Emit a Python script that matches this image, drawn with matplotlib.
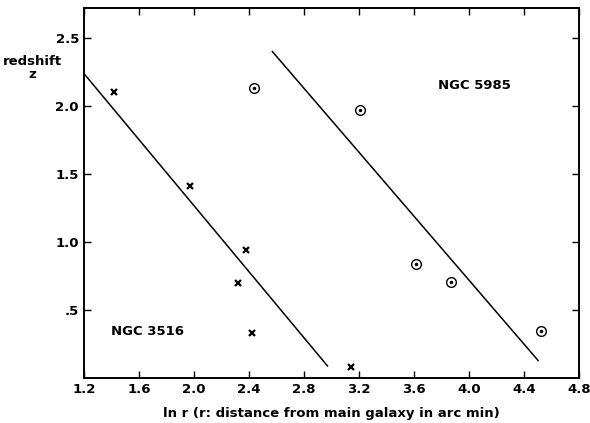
import numpy as np
import matplotlib
matplotlib.use("Agg")
import matplotlib.pyplot as plt

# NGC 3516 companions (crosses)
x_3516 = [1.42, 1.97, 2.38, 2.32, 2.42, 3.14]
z_3516 = [2.10, 1.41, 0.94, 0.70, 0.33, 0.08]

# NGC 5985 companions (circled dots)
x_5985 = [2.44, 3.21, 3.61, 3.87, 4.52]
z_5985 = [2.13, 1.97, 0.84, 0.71, 0.35]

# fitted lines (end points)
line_3516_x = [1.2, 2.97]
line_3516_z = [2.24, 0.09]
line_5985_x = [2.57, 4.50]
line_5985_z = [2.40, 0.13]

xticks = [1.2, 1.6, 2.0, 2.4, 2.8, 3.2, 3.6, 4.0, 4.4, 4.8]
yticks = [0.5, 1.0, 1.5, 2.0, 2.5]
ytick_labels = [".5", "1.0", "1.5", "2.0", "2.5"]

plt.rcParams['font.family'] = ['DejaVu Sans']
plt.rcParams['font.weight'] = 'bold'
plt.rcParams['axes.labelweight'] = 'bold'

fig = plt.figure(figsize=(5.9, 4.23), dpi=100)
ax = fig.add_axes([0.142, 0.106, 0.840, 0.875])

ax.plot(line_3516_x, line_3516_z, color="black", lw=1.1)
ax.plot(line_5985_x, line_5985_z, color="black", lw=1.1)

ax.plot(x_3516, z_3516, ls="none", marker="x", ms=4.5, mew=1.6, color="black")
ax.plot(x_5985, z_5985, ls="none", marker="o", ms=7, mew=1.0,
        mfc="none", mec="black")
ax.plot(x_5985, z_5985, ls="none", marker="o", ms=1.5, color="black")

ax.text(4.04, 2.15, "NGC 5985", ha="center", va="center", fontsize=9.5)
ax.text(1.66, 0.34, "NGC 3516", ha="center", va="center", fontsize=9.5)

ax.set_xlim(1.2, 4.8)
ax.set_ylim(0, 2.72)
ax.set_xticks(xticks)
ax.set_xticklabels([f"{v:.1f}" for v in xticks])
ax.set_yticks(yticks)
ax.set_yticklabels(ytick_labels)
ax.tick_params(direction="in", top=True, right=True, length=5, width=1.0,
               labelsize=9.5)
for s in ax.spines.values():
    s.set_linewidth(1.4)

ax.set_xlabel("ln r (r: distance from main galaxy in arc min)", fontsize=9.5,
              labelpad=8)
fig.text(0.055, 0.84, "redshift\nz", ha="center", va="center", fontsize=9.5,
         linespacing=1.0)

fig.savefig("out.png", dpi=100)
